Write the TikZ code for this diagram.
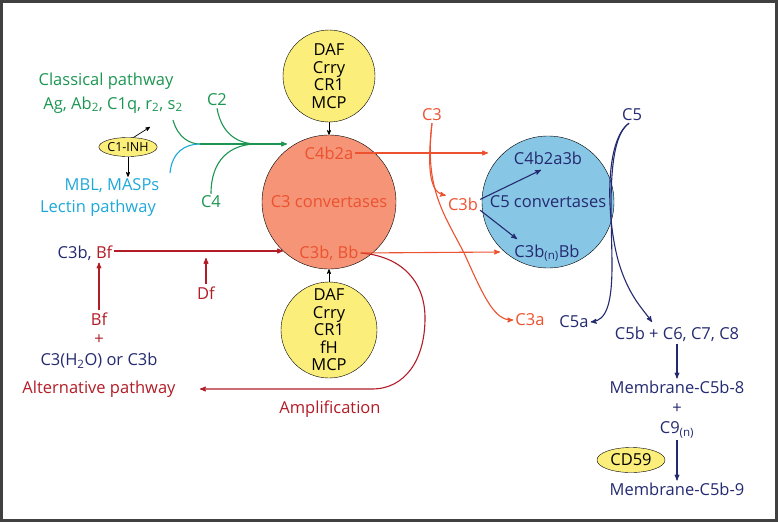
\documentclass[tikz,border=0pt]{standalone}
\usepackage{fontspec}
\setmainfont{Open Sans}
\usetikzlibrary{arrows,shapes,positioning,calc}
\definecolor{cpgreen}{RGB}{28,150,82}
\definecolor{cpcyan}{RGB}{30,168,218}
\definecolor{cpnavy}{RGB}{36,42,112}
\definecolor{cpred}{RGB}{178,28,38}
\definecolor{cporange}{RGB}{236,82,48}
\definecolor{cpsalmon}{RGB}{245,148,118}
\definecolor{cpblue}{RGB}{136,198,230}
\definecolor{cpyellow}{RGB}{252,238,122}
\newcommand{\pathfont}{\fontsize{16.5}{17.5}\selectfont}
\tikzset{
    reg-circle/.style={
        circle,
        draw=black,
        fill=cpyellow,
        align=center,
        inner sep=0pt,
        minimum size=92pt,
    },
    c3-conv/.style={
        circle,
        draw=black,
        fill=cpsalmon,
        text=cporange,
        minimum size=134pt,
    },
    c5-conv/.style={
        circle,
        draw=black,
        fill=cpblue,
        text=cpnavy,
        minimum size=132pt,
    },
    inh-ellipse/.style={
        ellipse,
        draw=black,
        fill=cpyellow,
        inner sep=0pt,
    },
    txt/.style={inner sep=2pt},
    green-txt/.style={txt, text=cpgreen},
    cyan-txt/.style={txt, text=cpcyan},
    navy-txt/.style={txt, text=cpnavy},
    red-txt/.style={txt, text=cpred},
    orange-txt/.style={txt, text=cporange},
    path-line/.style={
        draw,
        line width=1.1pt,
    },
    path-arrow/.style={
        path-line,
        ->,>=stealth',
    },
    frame/.style={
        draw=black!75,
        line width=3pt,
    },
}

\begin{document}
\begin{tikzpicture}[x=1pt,y=-1pt,every node/.style={font=\pathfont}]
    \useasboundingbox (0,0) rectangle (778,522);
    \draw[frame] (1.5,1.5) rectangle (776.5,520.5);

    % convertases and their regulators
    \node[reg-circle] (regtop) at (329,76) {DAF\\Crry\\CR1\\MCP};
    \node[c3-conv] (conv3) at (329,202) {C3 convertases};
    \node[reg-circle, minimum size=96pt] (regbot) at (329,330) {DAF\\Crry\\CR1\\fH\\MCP};
    \node[c5-conv] (conv5) at (548,202) {C5 convertases};
    \node[orange-txt] (c4b2a) at (329,153) {C4b2a};
    \node[orange-txt] (c3bbb) at (329,253) {C3b, Bb};
    \node[navy-txt] (c4b2a3b) at (548,158) {C4b2a3b};
    \node[navy-txt] (c3bnbb) at (547,253) {C3b\textsubscript{(n)}Bb};
    \draw[path-arrow, line width=0.7pt] (regtop) -- (conv3);
    \draw[path-arrow, line width=0.7pt] (regbot) -- (conv3);

    % classical and lectin pathways
    \node[green-txt] (classical) at (106,81) {Classical pathway};
    \node[green-txt] (agab) at (113,105) {Ag, Ab\textsubscript{2}, C1q, r\textsubscript{2}, s\textsubscript{2}};
    \node[inh-ellipse, minimum width=56pt, minimum height=19pt, font=\fontsize{12.5}{14}\selectfont] (c1inh) at (128,147) {C1-INH};
    \node[cyan-txt] (mbl) at (112,186) {MBL, MASPs};
    \node[cyan-txt] (lectin) at (98,208) {Lectin pathway};
    \node[green-txt] (c2) at (217,100) {C2};
    \node[green-txt] (c4) at (211,202) {C4};
    \coordinate (s2out) at (173,120);
    \coordinate (mblout) at (170,173);
    \coordinate (mergeA) at (200,144);
    \coordinate (mergeB) at (257,144);
    \coordinate (c3in) at (287,144);
    \coordinate (inhup) at (150,127);
    \draw[path-line, cpgreen] (s2out) .. controls (178,138) and (190,144) .. (mergeA);
    \draw[path-line, cpcyan] (mblout) .. controls (172,152) and (185,144) .. (mergeA);
    \draw[path-arrow, cpgreen] (mergeA) -- (c3in);
    \draw[path-line, cpgreen] (c2.south) .. controls (222,136) and (240,144) .. (mergeB);
    \draw[path-line, cpgreen] (c4.north) .. controls (211,160) and (230,144) .. (mergeB);
    \draw[path-arrow, line width=0.7pt] (c1inh.60) -- (inhup);
    \draw[path-arrow, line width=0.7pt] (c1inh.south) -- (c1inh.south |- mbl.north);

    % alternative pathway
    \node[txt] (c3bbf) at (85,253) {\textcolor{cpnavy}{C3b,} \textcolor{cpred}{Bf}};
    \node[red-txt] (df) at (206,293) {Df};
    \node[red-txt] (bf) at (99,319) {Bf};
    \node[red-txt] (plusA) at (99,340) {+};
    \node[navy-txt] (c3h2o) at (99,361) {C3(H\textsubscript{2}O) or C3b};
    \node[red-txt] (alt) at (99,389) {Alternative pathway};
    \node[red-txt] (ampl) at (330,409) {Amplification};
    \coordinate (bbin) at (283,251);
    \coordinate (dfend) at (207,258);
    \coordinate (ampend) at (200,389);
    \draw[path-arrow, cpred] (c3bbf.east |- bbin) -- (bbin);
    \draw[path-arrow, cpred] (df.north) -- (df.north |- dfend);
    \draw[path-arrow, cpred] (bf.north) -- (bf.north |- c3bbf.south);
    \draw[path-arrow, cpred] (c3bbb.east) .. controls (400,256) and (425,280) .. (425,318)
        .. controls (425,360) and (405,389) .. (372,389) -- (ampend);

    % C3 cleavage
    \node[orange-txt] (c3) at (432,115) {C3};
    \node[orange-txt] (c3bo) at (463,204) {C3b};
    \node[orange-txt] (c3a) at (530,320) {C3a};
    \coordinate (c5inA) at (488,153);
    \coordinate (c5inB) at (500,252);
    \draw[path-arrow, cporange] (c4b2a.east) -- (c5inA);
    \draw[path-arrow, cporange] (c3bbb.east) -- (c5inB);
    \draw[path-arrow, cporange] (c3.south) .. controls (425,185) and (435,193) .. (c3bo.north west);
    \draw[path-arrow, cporange] (c3.south) .. controls (424,190) and (445,215) .. (465,255)
        .. controls (485,300) and (495,320) .. (c3a.west);
    \coordinate (tipA) at (541,170);
    \coordinate (tipB) at (517,239);
    \draw[path-arrow, cpnavy] (c3bo.15) -- (tipA);
    \draw[path-arrow, cpnavy] (c3bo.-20) -- (tipB);

    % terminal pathway
    \node[navy-txt] (c5) at (632,115) {C5};
    \node[navy-txt] (c5a) at (574,322) {C5a};
    \node[navy-txt] (c5b) at (677,334) {C5b + C6, C7, C8};
    \node[navy-txt] (mem8) at (677,387) {Membrane-C5b-8};
    \node[navy-txt] (plusB) at (677,409) {+};
    \node[navy-txt] (c9) at (677,430) {C9\textsubscript{(n)}};
    \node[inh-ellipse, minimum width=68pt, minimum height=25pt] (cd59) at (631,460) {CD59};
    \node[navy-txt] (mem9) at (677,489) {Membrane-C5b-9};
    \coordinate (c5bin) at (652,322);
    \draw[path-arrow, cpnavy] (c5.250) .. controls (605,140) and (612,220) .. (612,265)
        .. controls (612,305) and (606,320) .. (c5a.east);
    \draw[path-arrow, cpnavy] (c5.250) .. controls (605,140) and (606,215) .. (618,260)
        .. controls (628,295) and (642,308) .. (c5bin);
    \draw[path-arrow, cpnavy] (c5b) -- (mem8);
    \draw[path-arrow, cpnavy] (c9) -- (mem9);
\end{tikzpicture}
\end{document}
